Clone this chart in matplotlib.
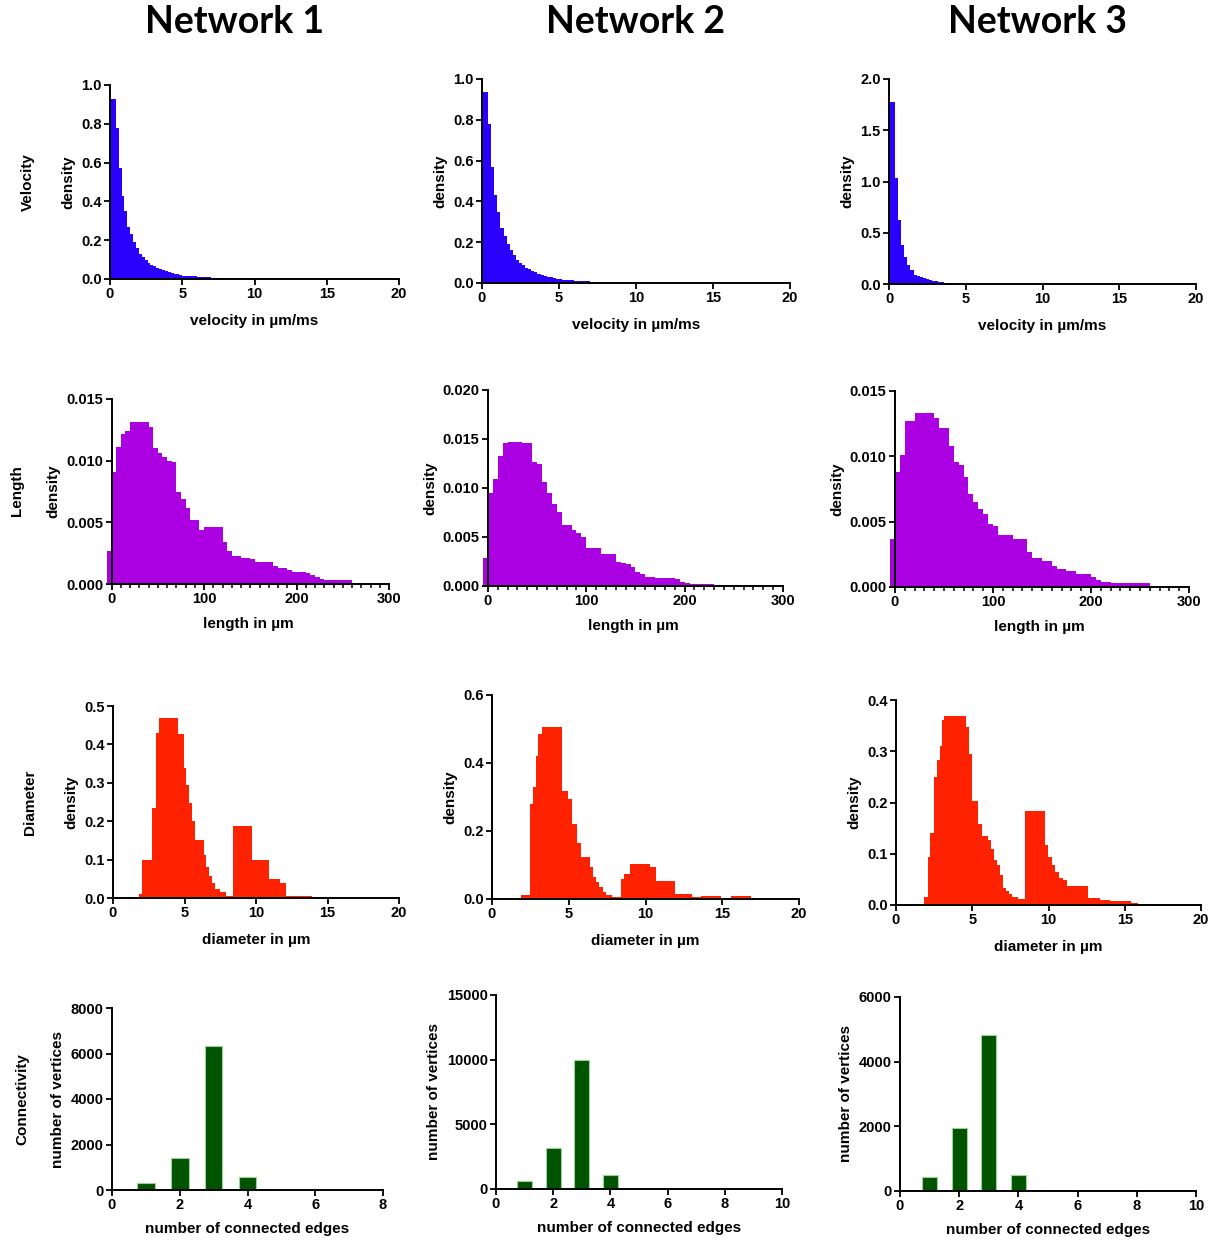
import matplotlib.pyplot as plt
import numpy as np
from matplotlib.ticker import FormatStrFormatter, MultipleLocator

plt.rcParams['font.family'] = 'Liberation Sans'
plt.rcParams['font.weight'] = 'bold'
plt.rcParams['axes.labelweight'] = 'bold'
plt.rcParams['font.size'] = 10.5

networks = ['Network 1', 'Network 2', 'Network 3']
row_names = ['Velocity', 'Length', 'Diameter', 'Connectivity']

# velocity histograms (bins of 0.2 starting at 0)
vel_bin = 0.2
vel_net1 = [0.93, 0.93, 0.78, 0.57, 0.43, 0.35, 0.27, 0.23, 0.19, 0.16, 0.13, 0.115, 0.10, 0.085,
            0.072, 0.068, 0.058, 0.05, 0.044, 0.04, 0.034, 0.03, 0.027, 0.024, 0.02, 0.018, 0.016,
            0.015, 0.014, 0.013, 0.012, 0.011, 0.010, 0.009, 0.008, 0.007, 0.006, 0.006, 0.005, 0.004]
vel_net2 = [0.935, 0.935, 0.78, 0.57, 0.433, 0.35, 0.27, 0.23, 0.19, 0.16, 0.135, 0.115, 0.10, 0.088,
            0.075, 0.07, 0.06, 0.052, 0.045, 0.04, 0.035, 0.031, 0.027, 0.024, 0.021, 0.018, 0.016,
            0.015, 0.014, 0.013, 0.012, 0.011, 0.010, 0.009, 0.008, 0.007, 0.006, 0.006, 0.005, 0.004]
vel_net3 = [1.78, 1.78, 1.03, 0.62, 0.38, 0.26, 0.186, 0.137, 0.088, 0.078, 0.065, 0.055, 0.047,
            0.04, 0.034, 0.028, 0.022, 0.017, 0.013, 0.009]

# length histograms (bins of 5 starting at -5)
len_bin = 5
len_net1 = [0.0027, 0.0091, 0.0111, 0.0122, 0.0124, 0.0131, 0.0131, 0.0131, 0.0131, 0.0127,
            0.0110, 0.0106, 0.0103, 0.0100, 0.0099, 0.0075, 0.0069, 0.0062, 0.0052, 0.0052,
            0.0044, 0.0046, 0.0046, 0.0046, 0.0046, 0.0034, 0.0027, 0.0023, 0.0023, 0.0021,
            0.0021, 0.0020, 0.0018, 0.0018, 0.0018, 0.0018, 0.0015, 0.0013, 0.0013, 0.0011,
            0.0010, 0.0010, 0.0010, 0.0009, 0.0007, 0.0006, 0.0004, 0.0003, 0.0003, 0.0003,
            0.0003, 0.0003, 0.0003]
len_net2 = [0.0029, 0.0095, 0.0109, 0.0133, 0.0146, 0.0147, 0.0147, 0.0147, 0.0146, 0.0146,
            0.0127, 0.0124, 0.0106, 0.0095, 0.0084, 0.0076, 0.0062, 0.0062, 0.0057, 0.0054,
            0.0050, 0.0039, 0.0039, 0.0039, 0.0033, 0.0033, 0.0033, 0.0024, 0.0023, 0.0022,
            0.0019, 0.0014, 0.0012, 0.0009, 0.0009, 0.0008, 0.0008, 0.0008, 0.0008, 0.0007,
            0.0004, 0.0003, 0.0002, 0.0002, 0.0002, 0.0002, 0.0002, 0.0001, 0.0001, 0.0001,
            0.0001, 0.0001, 0.0]
len_net3 = [0.0037, 0.0088, 0.0101, 0.0127, 0.0127, 0.0133, 0.0133, 0.0133, 0.0133, 0.0129,
            0.0122, 0.0122, 0.0108, 0.0096, 0.0093, 0.0084, 0.0071, 0.0065, 0.0060, 0.0056,
            0.0048, 0.0047, 0.0040, 0.0040, 0.0040, 0.0037, 0.0037, 0.0037, 0.0027, 0.0022,
            0.0022, 0.0020, 0.0020, 0.0016, 0.0014, 0.0014, 0.0012, 0.0012, 0.0010, 0.0010,
            0.0010, 0.0008, 0.00055, 0.0004, 0.0004, 0.0003, 0.0003, 0.0003, 0.0003, 0.0003,
            0.0003, 0.0003, 0.0003]

# diameter histograms (variable bin edges)
diam_edges1 = [1.8, 2.05, 2.7, 3.03, 3.2, 4.55, 4.95, 5.13, 5.3, 5.5, 5.7, 6.35, 6.5, 6.7, 6.9,
               7.1, 7.5, 7.9, 8.4, 9.7, 10.9, 11.7, 12.1, 12.9, 13.9]
diam_net1 = [0.01, 0.10, 0.234, 0.43, 0.47, 0.427, 0.338, 0.293, 0.247, 0.20, 0.15, 0.113, 0.082,
             0.058, 0.04, 0.024, 0.015, 0.006, 0.187, 0.10, 0.049, 0.04, 0.006, 0.004]
diam_edges2 = [1.87, 2.45, 2.67, 2.85, 3.02, 3.24, 4.58, 4.95, 5.21, 5.56, 5.78, 6.4, 6.58, 6.8,
               7.0, 7.2, 7.4, 7.8, 8.4, 8.6, 8.97, 10.27, 10.7, 11.94, 13.0, 13.6, 14.95, 15.6, 16.9]
diam_net2 = [0.012, 0.28, 0.33, 0.42, 0.485, 0.505, 0.318, 0.294, 0.22, 0.164, 0.125, 0.095, 0.064,
             0.051, 0.034, 0.02, 0.012, 0.007, 0.059, 0.074, 0.103, 0.093, 0.054, 0.015, 0.005,
             0.009, 0.002, 0.009]
diam_edges3 = [1.86, 2.07, 2.25, 2.47, 2.69, 2.86, 3.03, 3.17, 4.59, 4.78, 5.0, 5.39, 5.61, 6.03,
               6.22, 6.44, 6.62, 6.83, 7.01, 7.2, 7.38, 7.6, 8.03, 8.47, 9.78, 9.96, 10.22, 10.44,
               10.66, 10.98, 11.24, 12.62, 13.38, 14.04, 15.4, 15.9, 18.0, 20.4]
diam_net3 = [0.015, 0.094, 0.141, 0.249, 0.282, 0.311, 0.361, 0.369, 0.347, 0.295, 0.202, 0.159,
             0.135, 0.126, 0.109, 0.088, 0.078, 0.059, 0.033, 0.028, 0.021, 0.016, 0.011, 0.183,
             0.117, 0.093, 0.078, 0.064, 0.053, 0.049, 0.037, 0.014, 0.01, 0.008, 0.0045, 0.0026,
             0.0013]

# connectivity (number of vertices per number of connected edges)
conn_edges = [1, 2, 3, 4]
conn_net1 = [320, 1400, 6350, 590]
conn_net2 = [600, 3200, 10000, 1050]
conn_net3 = [430, 1950, 4840, 490]

W, H = 1217, 1245
fig = plt.figure(figsize=(W / 100, H / 100), dpi=100)

# axes boxes in pixels: (left, right, top, bottom)
boxes = [
    [(110, 399, 85, 279), (482, 790, 79, 283), (889, 1196, 79, 284)],
    [(107, 389, 399, 584), (483, 783, 390, 586), (890, 1189, 391, 587)],
    [(113, 399, 706, 898), (492, 799, 695, 899), (896, 1201, 700, 905)],
    [(112, 383, 1008, 1190), (496, 782, 995, 1189), (900, 1196, 997, 1191)],
]

vel_data = [vel_net1, vel_net2, vel_net3]
len_data = [len_net1, len_net2, len_net3]
diam_data = [(diam_edges1, diam_net1), (diam_edges2, diam_net2), (diam_edges3, diam_net3)]
conn_data = [conn_net1, conn_net2, conn_net3]

vel_ymax = [1.0, 1.0, 2.0]
len_ymax = [0.015, 0.020, 0.015]
diam_ymax = [0.5, 0.6, 0.4]
conn_ymax = [8000, 15000, 6000]
conn_xmax = [8, 10, 10]

blue = '#2a00ff'
purple = '#aa00e2'
red = '#ff2200'
green = '#005400'


def make_ax(box):
    l, r, t, b = box
    ax = fig.add_axes([l / W, 1 - b / H, (r - l) / W, (b - t) / H])
    for s in ['top', 'right']:
        ax.spines[s].set_visible(False)
    for s in ['left', 'bottom']:
        ax.spines[s].set_linewidth(1.4)
    ax.tick_params(direction='out', length=4, width=1.3, labelsize=10.5, pad=2)
    return ax


for j in range(3):
    # velocity
    ax = make_ax(boxes[0][j])
    h = vel_data[j]
    edges = vel_bin * np.arange(len(h) + 1)
    ax.stairs(h, edges, fill=True, color=blue)
    ax.set_xlim(0, 20)
    ax.set_ylim(0, vel_ymax[j])
    ax.set_xticks([0, 5, 10, 15, 20])
    ax.yaxis.set_major_locator(MultipleLocator(vel_ymax[j] / 5 if j < 2 else 0.5))
    ax.yaxis.set_major_formatter(FormatStrFormatter('%.1f'))
    ax.set_xlabel('velocity in µm/ms', fontsize=11, labelpad=9)
    ax.set_ylabel('density', fontsize=11, labelpad=4)

    # length
    ax = make_ax(boxes[1][j])
    h = len_data[j]
    edges = -5 + len_bin * np.arange(len(h) + 1)
    ax.stairs(h, edges, fill=True, color=purple)
    ax.set_xlim(-5, 300)
    ax.spines['left'].set_position(('data', 0))
    ax.set_ylim(0, len_ymax[j])
    ax.set_xticks([0, 100, 200, 300])
    ax.xaxis.set_minor_locator(MultipleLocator(10))
    ax.tick_params(which='minor', direction='out', length=3, width=1.1)
    ax.yaxis.set_major_locator(MultipleLocator(0.005))
    ax.yaxis.set_major_formatter(FormatStrFormatter('%.3f'))
    ax.set_xlabel('length in µm', fontsize=11, labelpad=8)
    ax.set_ylabel('density', fontsize=11, labelpad=4)

    # diameter
    ax = make_ax(boxes[2][j])
    e, h = diam_data[j]
    ax.stairs(h, e, fill=True, color=red)
    ax.set_xlim(0, 20)
    ax.set_ylim(0, diam_ymax[j])
    ax.set_xticks([0, 5, 10, 15, 20])
    ax.yaxis.set_major_locator(MultipleLocator(0.2 if j == 1 else 0.1))
    ax.yaxis.set_major_formatter(FormatStrFormatter('%.1f'))
    ax.set_xlabel('diameter in µm', fontsize=11, labelpad=9)
    ax.set_ylabel('density', fontsize=11, labelpad=4)

    # connectivity
    ax = make_ax(boxes[3][j])
    ax.bar(conn_edges, conn_data[j], width=0.52, color=green,
           edgecolor='#9ccf9c', linewidth=0.8)
    ax.set_xlim(0, conn_xmax[j])
    ax.set_ylim(0, conn_ymax[j])
    ax.xaxis.set_major_locator(MultipleLocator(2))
    ax.yaxis.set_major_locator(MultipleLocator(conn_ymax[j] / (4 if j == 0 else 3)))
    ax.yaxis.set_major_formatter(FormatStrFormatter('%d'))
    ax.set_xlabel('number of connected edges', fontsize=11, labelpad=7)
    ax.set_ylabel('number of vertices', fontsize=11, labelpad=4)

# column titles
for x, name in zip([235, 636, 1037], networks):
    fig.text(x / W, 1 - 22 / H, name, ha='center', va='center',
             fontsize=27, fontweight='bold', family='Lato')

# row labels
for (x, y), name in zip([(28, 182), (17, 491), (30, 802), (22, 1099)], row_names):
    fig.text(x / W, 1 - y / H, name, ha='center', va='center', rotation=90, fontsize=11)

fig.savefig('out.png', dpi=100)
